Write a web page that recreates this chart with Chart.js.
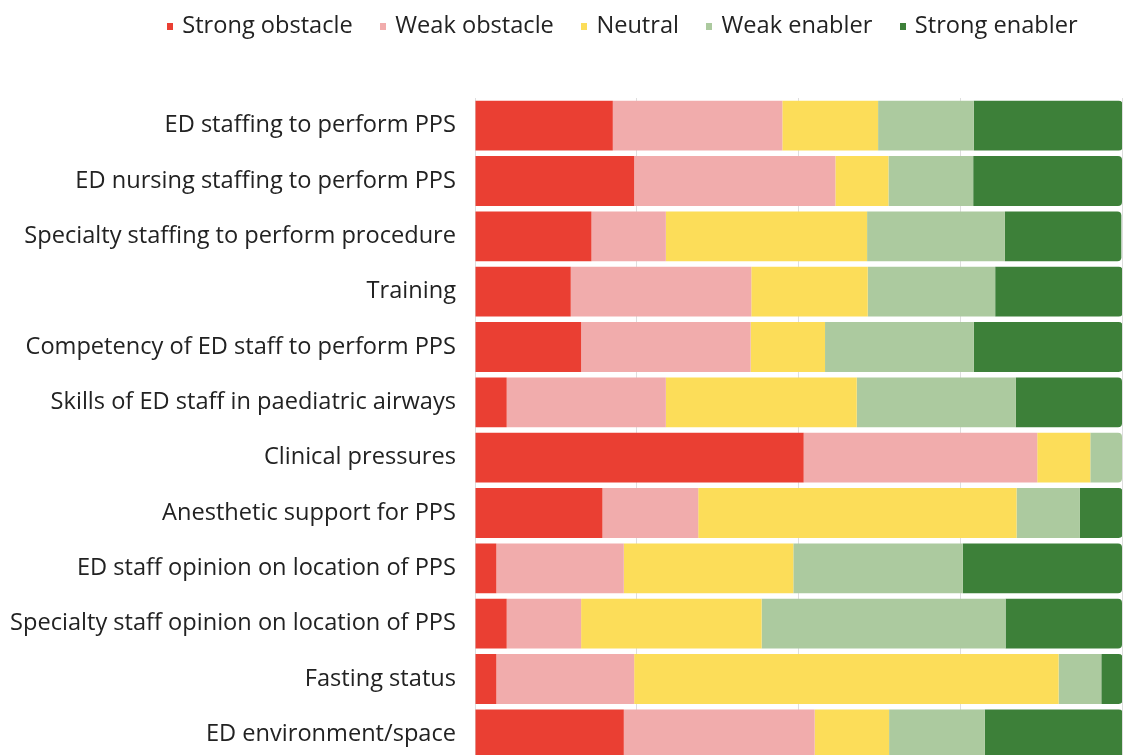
<!DOCTYPE html>
<html>
<head>
<meta charset="utf-8">
<script src="https://cdn.jsdelivr.net/npm/chart.js@4"></script>
<style>
  html, body { margin: 0; padding: 0; background: #fff; overflow: hidden; }
  #wrap { width: 1125px; height: 762px; }
</style>
</head>
<body>
<div id="wrap"><canvas id="chart" width="1125" height="762"></canvas></div>
<script>
  // factors (top to bottom)
  const factors = [
    'ED staffing to perform PPS',
    'ED nursing staffing to perform PPS',
    'Specialty staffing to perform procedure',
    'Training',
    'Competency of ED staff to perform PPS',
    'Skills of ED staff in paediatric airways',
    'Clinical pressures',
    'Anesthetic support for PPS',
    'ED staff opinion on location of PPS',
    'Specialty staff opinion on location of PPS',
    'Fasting status',
    'ED environment/space'
  ];

  // % of respondents per rating
  const strongObstacle = [21.3, 24.6, 18.0, 14.8, 16.4, 4.9, 50.8, 19.7, 3.3, 4.9, 3.3, 23.0];
  const weakObstacle   = [26.2, 31.1, 11.5, 27.9, 26.2, 24.6, 36.1, 14.8, 19.7, 11.5, 21.3, 29.5];
  const neutral        = [14.8, 8.2, 31.1, 18.0, 11.5, 29.5, 8.2, 49.2, 26.2, 27.9, 65.6, 11.5];
  const weakEnabler    = [14.8, 13.1, 21.3, 19.7, 23.0, 24.6, 4.9, 9.8, 26.2, 37.7, 6.6, 14.8];
  const strongEnabler  = [23.0, 23.0, 18.0, 19.7, 23.0, 16.4, 0, 6.6, 24.6, 18.0, 3.3, 21.3];

  const xTicks = [0, 25, 50, 75, 100];

  const series = [
    { label: 'Strong obstacle', data: strongObstacle, color: '#ea3f33' },
    { label: 'Weak obstacle',   data: weakObstacle,   color: '#f1acac' },
    { label: 'Neutral',         data: neutral,        color: '#fcdd59' },
    { label: 'Weak enabler',    data: weakEnabler,    color: '#acca9f' },
    { label: 'Strong enabler',  data: strongEnabler,  color: '#3d8039' }
  ];

  // small square used as the legend marker
  function swatch(color) {
    const c = document.createElement('canvas');
    c.width = 6;
    c.height = 7;
    const g = c.getContext('2d');
    g.fillStyle = color;
    g.fillRect(0, 0, 6, 7);
    return c;
  }

  // round only the right end of the last non-empty piece of each row
  function endRadius(ctx) {
    let last = -1;
    series.forEach((s, k) => { if (s.data[ctx.dataIndex] > 0) last = k; });
    return ctx.datasetIndex === last ? { topRight: 4, bottomRight: 4 } : 0;
  }

  // legend: taller box (gap above bars) and sits right of the canvas centre
  const legendNudge = {
    id: 'legendNudge',
    beforeInit(chart) {
      const fit = chart.legend.fit;
      chart.legend.fit = function () {
        fit.bind(chart.legend)();
        this.height = 98;
      };
    },
    afterLayout(chart) {
      const lg = chart.legend;
      lg.left += 57.5; lg.right += 57.5;
      lg.top -= 15.5; lg.bottom -= 15.5;
    }
  };

  const textColor = '#222';
  const fontFamily = '"Open Sans", "Noto Sans", sans-serif';

  new Chart(document.getElementById('chart'), {
    type: 'bar',
    data: {
      labels: factors,
      datasets: series.map(s => ({
        label: s.label,
        data: s.data,
        backgroundColor: s.color,
        pointStyle: swatch(s.color),
        borderWidth: 0,
        borderRadius: endRadius,
        barPercentage: 0.9,
        categoryPercentage: 1.0
      }))
    },
    options: {
      indexAxis: 'y',
      responsive: false,
      animation: false,
      layout: { padding: { left: 10, right: 3, top: 0, bottom: 0 } },
      scales: {
        x: {
          stacked: true,
          min: 0,
          max: 100,
          afterBuildTicks: axis => { axis.ticks = xTicks.map(v => ({ value: v })); },
          afterFit: axis => { axis.height = 0; },
          ticks: { display: false },
          grid: { color: 'rgba(0,0,0,0.13)', drawTicks: false },
          border: { display: false }
        },
        y: {
          stacked: true,
          afterFit: axis => {
            axis.width = 465;
            axis.paddingTop = 0;
            axis.paddingBottom = 0;
          },
          grid: { display: false, drawTicks: false },
          border: { display: false },
          ticks: {
            color: textColor,
            padding: 19,
            font: { family: fontFamily, size: 23.6 }
          }
        }
      },
      plugins: {
        legend: {
          position: 'top',
          labels: {
            color: textColor,
            usePointStyle: true,
            boxWidth: 1,
            padding: 29.75,
            font: { family: fontFamily, size: 23.6 }
          }
        },
        tooltip: { enabled: false }
      }
    },
    plugins: [legendNudge]
  });
</script>
</body>
</html>
